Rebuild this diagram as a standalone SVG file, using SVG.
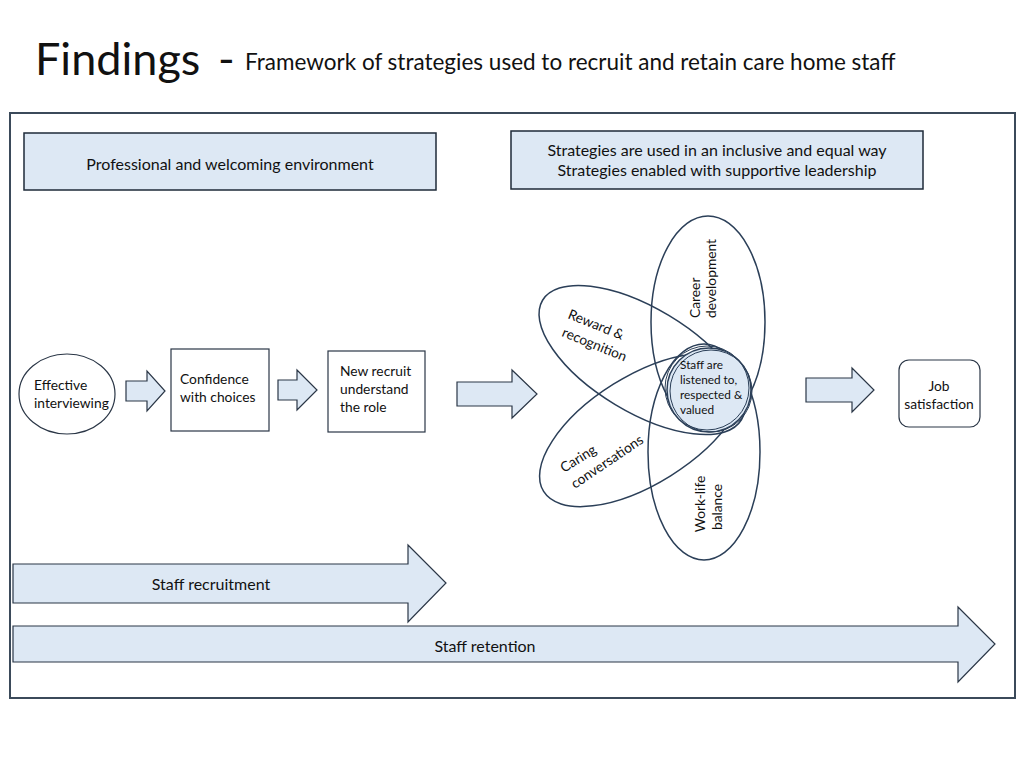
<svg xmlns="http://www.w3.org/2000/svg" width="1024" height="768" viewBox="0 0 1024 768">
<style>
text{font-family:Lato,"Liberation Sans",sans-serif;fill:#111;}
.box{fill:#dde8f4;stroke:#1e2a38;stroke-width:1.5;}
.wbox{fill:#fff;stroke:#2a3646;stroke-width:1.2;}
.arr{fill:#dde8f4;stroke:#2a3646;stroke-width:1.2;}
.ell{fill:none;stroke:#2b3f58;stroke-width:1.5;}
.t15{font-size:16px;}
.t13{font-size:13.8px;}
.t11{font-size:11.8px;}
</style>
<rect width="1024" height="768" fill="#fff"/>
<g id="title">
<text x="35" y="75" style="font-size:45px">Findings</text>
<text x="218" y="75" style="font-size:45px">-</text>
<text x="245" y="70" style="font-size:22.5px">Framework of strategies used to recruit and retain care home staff</text>
</g>
<rect id="frame" x="10" y="113" width="1005" height="585" fill="none" stroke="#3b4a5a" stroke-width="2"/>
<g id="env">
<rect class="box" x="24" y="133" width="412" height="57"/>
<text class="t15" x="230" y="170" text-anchor="middle">Professional and welcoming environment</text>
</g>
<g id="strategies">
<rect class="box" x="511" y="131" width="412" height="58"/>
<text class="t15" x="717" y="156" text-anchor="middle">Strategies are used in an inclusive and equal way</text>
<text class="t15" x="717" y="176" text-anchor="middle">Strategies enabled with supportive leadership</text>
</g>
<g id="interviewing">
<ellipse class="wbox" cx="67" cy="394" rx="48" ry="40"/>
<text class="t13" x="34" y="390">Effective</text>
<text class="t13" x="34" y="408">interviewing</text>
</g>
<g id="confidence">
<rect class="wbox" x="171" y="349" width="98" height="82"/>
<text class="t13" x="180" y="384">Confidence</text>
<text class="t13" x="180" y="402">with choices</text>
</g>
<g id="newrecruit">
<rect class="wbox" x="328" y="351" width="97" height="81"/>
<text class="t13" x="340" y="376">New recruit</text>
<text class="t13" x="340" y="394">understand</text>
<text class="t13" x="340" y="412">the role</text>
</g>
<g id="connectors">
<path class="arr" d="M126,381 H147 V371 L165,391 L147,411 V401 H126 Z"/>
<path class="arr" d="M278,380 H297 V370 L317,390 L297,410 V400 H278 Z"/>
<path class="arr" d="M457,382 H512 V370 L537,394 L512,418 V406 H457 Z"/>
<path class="arr" d="M806,378 H852 V368 L874,390 L852,412 V402 H806 Z"/>
</g>
<g id="career">
<ellipse class="ell" cx="708" cy="322" rx="57" ry="106"/>
<text class="t13" transform="translate(700,318) rotate(-90)">Career</text>
<text class="t13" transform="translate(716,318) rotate(-90)">development</text>
</g>
<g id="worklife">
<ellipse class="ell" cx="704" cy="452" rx="56" ry="108"/>
<text class="t13" text-anchor="middle" transform="translate(705,504) rotate(-90)">Work-life</text>
<text class="t13" text-anchor="middle" transform="translate(722,507) rotate(-90)">balance</text>
</g>
<g id="reward">
<ellipse class="ell" cx="642" cy="360" rx="116" ry="52" transform="rotate(31 642 360)"/>
<text class="t13" transform="translate(567,318) rotate(22)">Reward &amp;</text>
<text class="t13" transform="translate(561,336) rotate(22)">recognition</text>
</g>
<g id="caring">
<ellipse class="ell" cx="642" cy="430" rx="116" ry="54" transform="rotate(-32 642 430)"/>
<text class="t13" transform="translate(564,473) rotate(-32)">Caring</text>
<text class="t13" transform="translate(575,489) rotate(-34)">conversations</text>
</g>
<g id="staffvalued">
<circle cx="709" cy="390" r="42" fill="#dde8f4" stroke="#2b3f58" stroke-width="1.5"/>
<circle cx="707" cy="388" r="42" fill="none" stroke="#2b3f58" stroke-width="1"/>
<circle cx="711" cy="391" r="41" fill="none" stroke="#2b3f58" stroke-width="1"/>
<text class="t11" x="680" y="369">Staff are</text>
<text class="t11" x="680" y="384">listened to,</text>
<text class="t11" x="680" y="399">respected &amp;</text>
<text class="t11" x="680" y="414">valued</text>
</g>
<g id="job">
<rect class="wbox" x="899" y="360" width="81" height="67" rx="10"/>
<text class="t13" x="939" y="391" text-anchor="middle">Job</text>
<text class="t13" x="939" y="409" text-anchor="middle">satisfaction</text>
</g>
<g id="recruitment">
<path class="arr" d="M13,564 H408 V545 L446,583 L408,622 V603 H13 Z"/>
<text class="t15" x="211" y="590" text-anchor="middle">Staff recruitment</text>
</g>
<g id="retention">
<path class="arr" d="M13,626 H958 V607 L995,644 L958,682 V662 H13 Z"/>
<text class="t15" x="485" y="652" text-anchor="middle">Staff retention</text>
</g>
</svg>
